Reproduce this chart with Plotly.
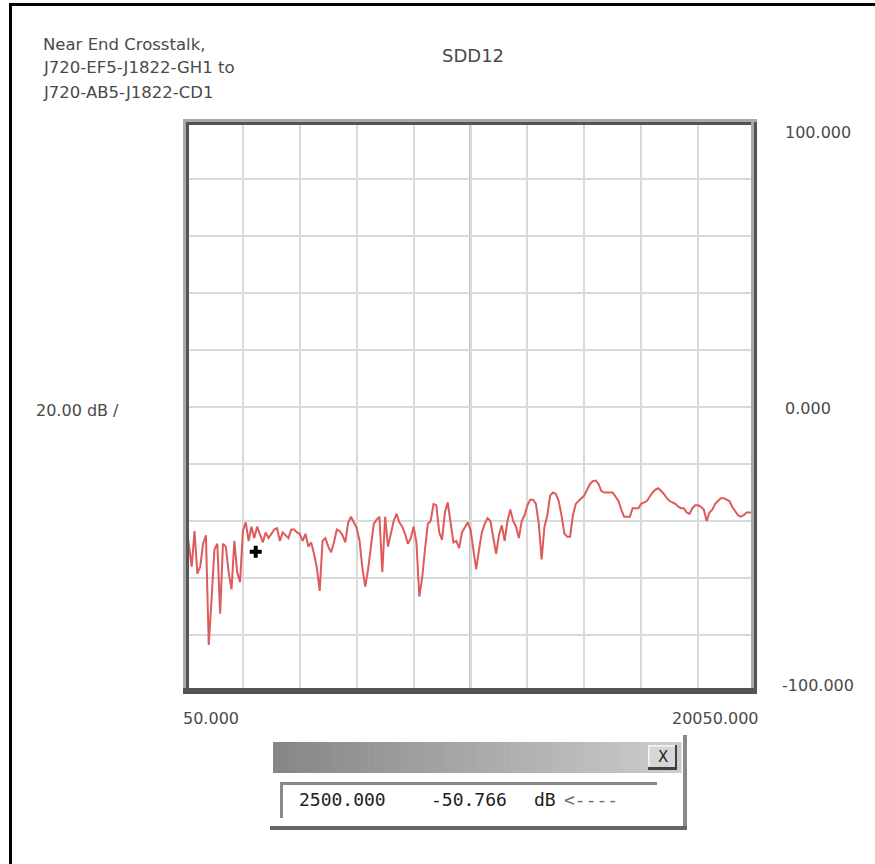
import plotly.graph_objects as go

# ---- data -------------------------------------------------------------
freq_start_mhz = 50
freq_step_mhz = 100
sdd12_db = [
    -40.5, -48, -56, -43.5, -58.5, -56, -48, -45, -83.5, -67,
    -50, -48, -72.5, -48, -49, -58, -64, -47, -58, -61.5,
    -43.5, -40.5, -47, -42, -46, -42, -45, -47.5, -44, -46,
    -44.5, -43, -42.5, -47, -44, -45, -46, -43, -43, -44,
    -44.5, -47, -44.5, -49, -47.5, -51.5, -56.5, -64.5, -47, -46,
    -49, -51, -47.5, -43, -43.5, -45, -47.5, -40.5, -38.5, -40.5,
    -42.5, -47, -56.5, -63, -57, -49, -41, -39.5, -38.5, -58,
    -38.5, -49, -45, -40, -37.5, -40.5, -42, -44.5, -48, -46,
    -42, -47.5, -66.5, -60, -50, -41, -40, -34, -34.5, -44,
    -46.5, -37, -33.5, -40, -47.5, -47, -49.5, -44, -42, -40.5,
    -43, -50, -57, -50, -44, -41, -39, -40, -46, -51.5,
    -45, -41.5, -47, -40, -36, -40, -42, -46, -40, -38,
    -34.5, -32.5, -32.5, -34, -41, -53.5, -42, -38, -31, -30,
    -30.5, -33, -38, -44.5, -45.5, -45.5, -38, -34, -33, -32,
    -31, -29, -27, -26, -25.8, -27, -29.5, -30, -30, -30,
    -30, -31.5, -33, -36, -38.5, -38.5, -38.5, -35.5, -35.5, -35.5,
    -34, -33.5, -33, -31.5, -30, -29, -28.5, -29.5, -30.5, -32,
    -33, -33.5, -34, -35, -35.5, -35.5, -37, -37.5, -35.5, -34.5,
    -34.5, -35, -36, -40, -37, -36, -34, -33, -32, -32,
    -32.5, -33, -35, -36.5, -38, -38.5, -38, -37, -37, -37,
    -37,
]
freq_mhz = [freq_start_mhz + freq_step_mhz * i for i in range(len(sdd12_db))]

marker_freq_mhz = 2500.000
marker_db = -50.766

x_range = [50.0, 20050.0]
y_range = [-100.0, 100.0]
x_labels = ["50.000", "20050.000"]
y_labels = ["100.000", "0.000", "-100.000"]
scale_label = "20.00 dB /"
title_lines = ["Near End Crosstalk,", "J720-EF5-J1822-GH1 to", "J720-AB5-J1822-CD1"]
param_name = "SDD12"

# ---- page geometry (pixels) -------------------------------------------
W, H = 875, 864
PL, PR, PT, PB = 186, 755, 122, 692  # plot area edges


def px(xp):
    return (xp - PL) / (PR - PL)


def py(yp):
    return (PB - yp) / (PB - PT)


def rect(x0, y0, x1, y1, fill, line_w=0, line_c=None, layer="above"):
    return dict(type="rect", xref="paper", yref="paper",
                x0=px(x0), x1=px(x1), y0=py(y1), y1=py(y0),
                fillcolor=fill, line=dict(width=line_w, color=line_c or fill),
                layer=layer)


fig = go.Figure()

fig.add_trace(go.Scatter(
    x=freq_mhz, y=sdd12_db, mode="lines",
    line=dict(color="#df5a5a", width=2),
    hoverinfo="skip", showlegend=False,
))
fig.add_trace(go.Scatter(
    x=[marker_freq_mhz], y=[marker_db], mode="markers",
    marker=dict(symbol="cross", size=10, color="#000000"),
    hoverinfo="skip", showlegend=False,
))

shapes = []
# darker centre graticule line
shapes.append(dict(type="line", xref="x", yref="paper",
                   x0=(x_range[0] + x_range[1]) / 2, x1=(x_range[0] + x_range[1]) / 2,
                   y0=0, y1=1, line=dict(color="#b2b2b2", width=2.5), layer="below"))

# sunken frame around the graticule
shapes += [
    rect(183, 119, 757, 122, "#a8a8a8"),
    rect(183, 122, 757, 125, "#545454"),
    rect(183, 119, 186, 694, "#a8a8a8"),
    rect(186, 122, 189, 692, "#545454"),
    rect(751, 122, 754, 692, "#a8a8a8"),
    rect(754, 122, 757, 694, "#545454"),
    rect(183, 688, 757, 694, "#545454"),
]

# outer page border (top and left)
shapes += [
    rect(9, 3, W + 2, 6, "#000000"),
    rect(9, 3, 12, H + 2, "#000000"),
]

# readout window: gradient title bar
n_strips = 60
bx0, bx1, by0, by1 = 273, 681, 742, 773
for k in range(n_strips):
    t = k / (n_strips - 1)
    g = int(round(0x86 + t * (0xcc - 0x86)))
    c = f"rgb({g},{g},{g})"
    xa = bx0 + (bx1 - bx0) * k / n_strips
    xb = bx0 + (bx1 - bx0) * (k + 1) / n_strips + 0.6
    shapes.append(rect(xa, by0, xb, by1, c))
# close button
shapes += [
    rect(648, 745, 677, 770, "#d6d6d6"),
    rect(648, 745, 677, 746.5, "#f4f4f4"),
    rect(648, 745, 649.5, 770, "#f4f4f4"),
    rect(648, 767, 677, 770, "#404040"),
    rect(675, 745, 677, 770, "#404040"),
]
# window edges and sunken text field
shapes += [
    rect(683, 735, 687, 830, "#8a8a8a"),
    rect(270, 826, 687, 830, "#666666"),
    rect(280, 782, 657, 785, "#8a8a8a"),
    rect(280, 782, 283, 818, "#8a8a8a"),
]

annotations = []
lab_font = dict(family="DejaVu Sans", size=16.5, color="#4a4a4a")
num_font = dict(family="DejaVu Sans", size=16, color="#4a4a4a")


def note(text, xp_, yp_, anchor="left", font=lab_font):
    annotations.append(dict(text=text, xref="paper", yref="paper",
                            x=px(xp_), y=py(yp_), xanchor=anchor, yanchor="middle",
                            showarrow=False, font=font))


for i, line in enumerate(title_lines):
    note(line, 41, 44 + 24 * i)
note(param_name, 473, 55, anchor="center",
     font=dict(family="DejaVu Sans", size=18, color="#4a4a4a"))
note(y_labels[0], 783, 132, font=num_font)
note(y_labels[1], 783, 408, font=num_font)
note(y_labels[2], 780, 685, font=num_font)
note(scale_label, 34, 410, font=num_font)
note(x_labels[0], 181, 718, font=num_font)
note(x_labels[1], 761, 718, anchor="right", font=num_font)

# readout text
mono = dict(family="DejaVu Sans Mono", size=18, color="#1e1e1e")
note(f"{marker_freq_mhz:.3f}", 297, 799, font=mono)
note(f"{marker_db:.3f}", 429, 799, font=mono)
note("dB", 532, 799, font=mono)
note("<----", 562, 799, font=dict(family="DejaVu Sans Mono", size=18, color="#6a6a6a"))
note("X", 662.5, 757, anchor="center",
     font=dict(family="DejaVu Sans", size=15, color="#222222"))

fig.update_layout(
    width=W, height=H,
    margin=dict(l=PL, r=W - PR, t=PT, b=H - PB, pad=0),
    paper_bgcolor="#ffffff", plot_bgcolor="#ffffff",
    shapes=shapes, annotations=annotations,
    xaxis=dict(range=x_range, tick0=x_range[0], dtick=2000, showticklabels=False,
               ticks="", showgrid=True, gridcolor="#d9d9d9", gridwidth=2,
               zeroline=False, showline=False, fixedrange=True),
    yaxis=dict(range=y_range, tick0=-100, dtick=20, showticklabels=False,
               ticks="", showgrid=True, gridcolor="#d9d9d9", gridwidth=2,
               zeroline=False, showline=False, fixedrange=True),
    showlegend=False,
)

fig.write_html("out.html", config=dict(displayModeBar=False))
